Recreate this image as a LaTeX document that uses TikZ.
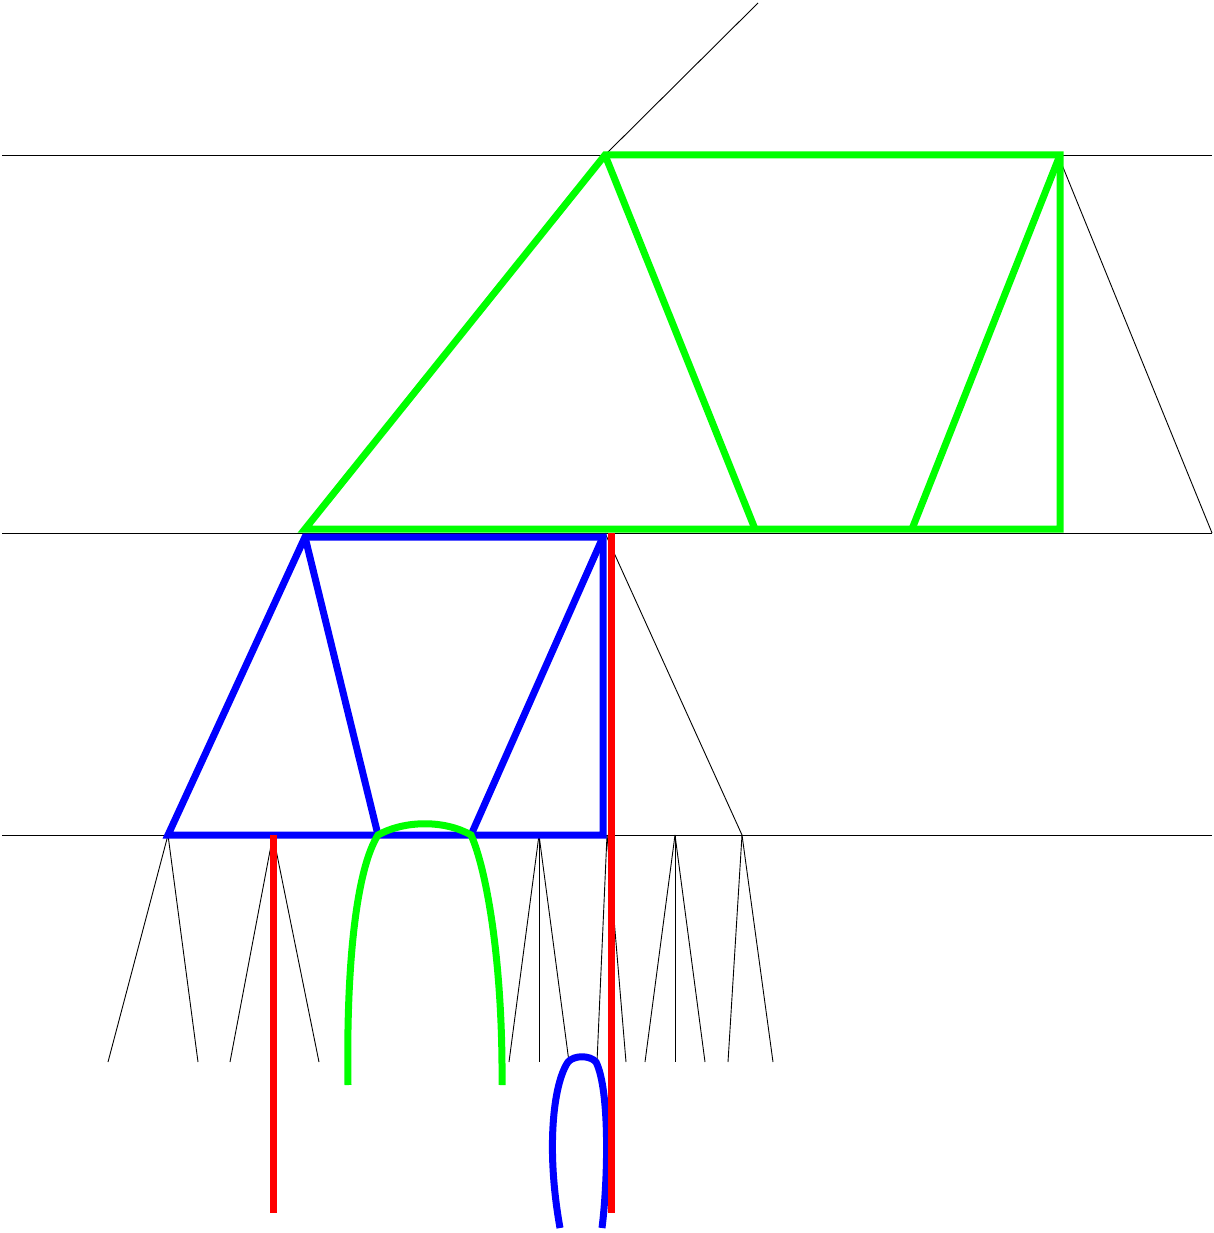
\documentclass[tikz,border=0pt]{standalone}
\begin{document}
\begin{tikzpicture}[x=1pt,y=-1pt,
  thin line/.style={black,line width=0.9pt},
  gline/.style={color={rgb,255:red,0;green,255;blue,0},line width=7pt},
  bline/.style={color={rgb,255:red,0;green,0;blue,255},line width=7pt},
  rline/.style={color={rgb,255:red,255;green,0;blue,0},line width=7pt}]
\useasboundingbox (0,0) rectangle (1214,1233);
% levels
\coordinate (L1a) at (2,155);  \coordinate (L1b) at (1212,155);
\coordinate (L2a) at (2,533);  \coordinate (L2b) at (1212,533);
\coordinate (L3a) at (2,835);  \coordinate (L3b) at (1212,835);
\draw[thin line] (L1a) -- (L1b);
\draw[thin line] (L2a) -- (L2b);
\draw[thin line] (L3a) -- (L3b);
% tree lines
\coordinate (T0) at (605,155); \coordinate (Ttop) at (758,3);
\coordinate (T1) at (1058,155); \coordinate (T1b) at (1212,533);
\coordinate (T2) at (605,533); \coordinate (T2b) at (742,835);
\draw[thin line] (T0) -- (Ttop);
\draw[thin line] (T1) -- (T1b);
\draw[thin line] (T2) -- (T2b);
% fans
\coordinate (F1) at (168,835);
\coordinate (F2) at (273,835);
\coordinate (F3) at (539,835);
\coordinate (F4) at (607,835);
\coordinate (F5) at (675,835);
\coordinate (F6) at (742,835);
\foreach \a/\xs in {F1/{108,198},F2/{230,319},F3/{509,539,569},F4/{597,626},F5/{645,675,705},F6/{728,773}}{
  \foreach \x in \xs {\draw[thin line] (\a) -- (\x,1062);}
}
% green shape
\coordinate (G1) at (605,155); \coordinate (G2) at (1060,155);
\coordinate (G3) at (1060,529); \coordinate (G4) at (305,529);
\coordinate (G5) at (755,529); \coordinate (G6) at (912,529);
\draw[gline] (G4) -- (G1) -- (G2) -- (G3) -- cycle;
\draw[gline] (G1) -- (G5);
\draw[gline] (G2) -- (G6);
% blue shape
\coordinate (B1) at (305,537); \coordinate (B2) at (603,537);
\coordinate (B3) at (603,835); \coordinate (B4) at (168,835);
\coordinate (B5) at (378,835); \coordinate (B6) at (471,835);
\draw[bline] (B4) -- (B1) -- (B2) -- (B3) -- cycle;
\draw[bline] (B1) -- (B5);
\draw[bline] (B2) -- (B6);
% green arch
\coordinate (A1) at (348,1085); \coordinate (A2) at (502,1085);
\draw[gline] (A1) .. controls (346,960) and (357,868) .. (B5)
  .. controls (405,820) and (445,820) .. (B6)
  .. controls (486,868) and (503,960) .. (A2);
% blue loop
\coordinate (C1) at (560,1228); \coordinate (C2) at (602,1228);
\coordinate (C3) at (568,1062); \coordinate (C4) at (596,1062);
\draw[bline] (C1) .. controls (546,1150) and (553,1084) .. (C3)
  .. controls (574,1055) and (590,1055) .. (C4)
  .. controls (610,1090) and (608,1180) .. (C2);
% red lines
\coordinate (R1) at (611,533); \coordinate (R1b) at (611,1213);
\coordinate (R2) at (273,835); \coordinate (R2b) at (273,1213);
\draw[rline] (R1) -- (R1b);
\draw[rline] (R2) -- (R2b);
\end{tikzpicture}
\end{document}
